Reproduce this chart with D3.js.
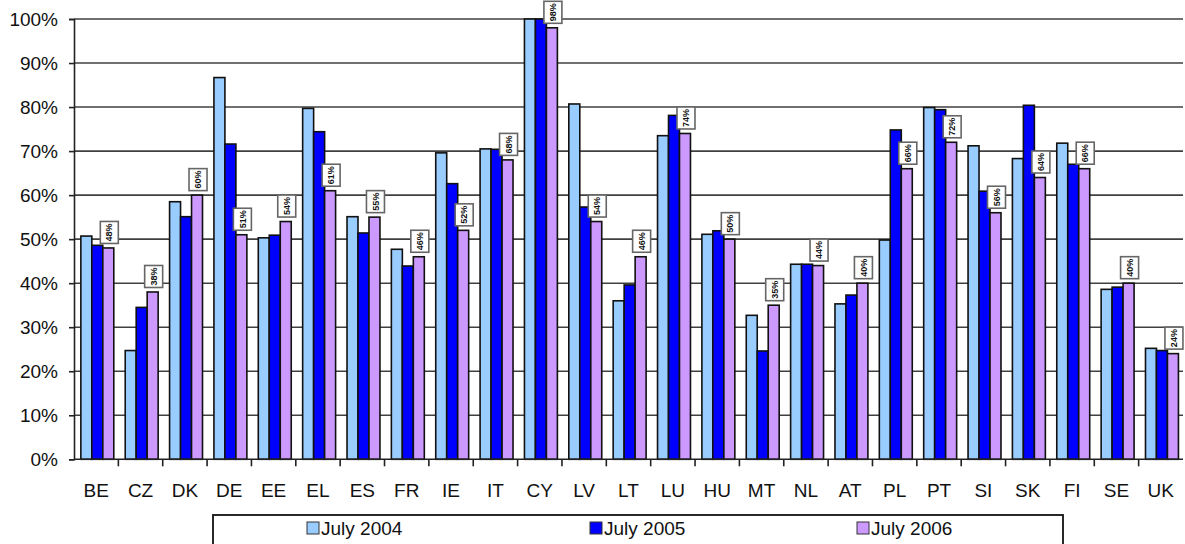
<!DOCTYPE html>
<html>
<head>
<meta charset="utf-8">
<script src="https://cdn.jsdelivr.net/npm/d3@7/dist/d3.min.js"></script>
<style>
  html, body { margin: 0; padding: 0; background: #fff; }
  svg { display: block; font-family: "Liberation Sans", Arial, sans-serif; }
</style>
</head>
<body>
<svg id="chart" width="1185" height="544"></svg>
<script>
// Member states along the category axis
const countries = ["BE","CZ","DK","DE","EE","EL","ES","FR","IE","IT","CY","LV","LT","LU","HU","MT","NL","AT","PL","PT","SI","SK","FI","SE","UK"];

// Share (%) per member state, one array per survey date
const july2004 = [50.7, 24.7, 58.5, 86.7, 50.3, 79.7, 55.1, 47.7, 69.6, 70.5, 100, 80.7, 36.0, 73.5, 51.1, 32.7, 44.3, 35.3, 49.8, 79.9, 71.2, 68.3, 71.8, 38.6, 25.2];
const july2005 = [48.6, 34.5, 55.1, 71.6, 50.9, 74.4, 51.4, 43.9, 62.6, 70.4, 100, 57.3, 39.6, 78.1, 51.9, 24.6, 44.3, 37.3, 74.8, 79.4, 60.9, 80.4, 67.0, 39.1, 24.7];
const july2006 = [48, 38, 60, 51, 54, 61, 55, 46, 52, 68, 98, 54, 46, 74, 50, 35, 44, 40, 66, 72, 56, 64, 66, 40, 24];

const seriesNames = ["July 2004", "July 2005", "July 2006"];
const seriesColors = ["#99CCFF", "#0000FF", "#CC99FF"];
const yTicks = [0, 10, 20, 30, 40, 50, 60, 70, 80, 90, 100];

const seriesValues = [july2004, july2005, july2006];
const rows = countries.map((c, i) => ({
  country: c,
  values: seriesNames.map((s, k) => ({ series: s, k, value: seriesValues[k][i] }))
}));

const svg = d3.select("#chart");
const plot = { left: 74, right: 1183, top: 19, bottom: 459.3 };

const x0 = d3.scaleBand().domain(countries).range([plot.left, plot.right]).padding(0);
const x1 = d3.scaleBand().domain(seriesNames).range([0, x0.bandwidth()])
  .paddingInner(0).paddingOuter(0.52).align(0.6);
const y = d3.scaleLinear().domain([0, 100]).range([plot.bottom, plot.top]);

// Horizontal gridlines
svg.append("g")
  .selectAll("line")
  .data(yTicks.filter(t => t > 0))
  .join("line")
  .attr("x1", plot.left).attr("x2", plot.right)
  .attr("y1", d => y(d)).attr("y2", d => y(d))
  .attr("stroke", "#404040").attr("stroke-width", 1.6);

// Y axis
const yAxis = svg.append("g")
  .attr("transform", `translate(${plot.left},0)`)
  .call(d3.axisLeft(y).tickValues(yTicks).tickFormat(d => d + "%").tickSize(5).tickPadding(11));
yAxis.select(".domain").attr("stroke", "#222").attr("stroke-width", 1.6);
yAxis.selectAll(".tick line").attr("stroke", "#222").attr("stroke-width", 1.6);
yAxis.selectAll(".tick text")
  .attr("font-size", 19).attr("fill", "#111")
  .attr("font-family", "'Liberation Sans', Arial, sans-serif");

// Bars
const groups = svg.append("g")
  .selectAll("g")
  .data(rows)
  .join("g")
  .attr("transform", d => `translate(${x0(d.country)},0)`);

groups.selectAll("rect")
  .data(d => d.values)
  .join("rect")
  .attr("x", d => x1(d.series))
  .attr("width", x1.bandwidth())
  .attr("y", d => y(d.value))
  .attr("height", d => y(0) - y(d.value))
  .attr("fill", d => seriesColors[d.k])
  .attr("stroke", "#111")
  .attr("stroke-width", 1.6);

// X axis (ticks between categories)
const xAxisG = svg.append("g");
xAxisG.append("line")
  .attr("x1", plot.left).attr("x2", plot.right)
  .attr("y1", plot.bottom).attr("y2", plot.bottom)
  .attr("stroke", "#222").attr("stroke-width", 1.6);
xAxisG.selectAll("line.tick")
  .data(countries.slice(1))
  .join("line")
  .attr("class", "tick")
  .attr("x1", d => x0(d)).attr("x2", d => x0(d))
  .attr("y1", plot.bottom).attr("y2", plot.bottom + 7)
  .attr("stroke", "#222").attr("stroke-width", 1.6);
xAxisG.selectAll("text")
  .data(countries)
  .join("text")
  .attr("x", d => x0(d) + x0.bandwidth() / 2)
  .attr("y", 497)
  .attr("text-anchor", "middle")
  .attr("font-size", 19)
  .attr("fill", "#111")
  .text(d => d);

// Value labels on the July 2006 bars
const lastSeries = seriesNames[2];
const labelW = 18, labelH = 22;
const labels = svg.append("g")
  .selectAll("g")
  .data(rows)
  .join("g")
  .attr("transform", d => {
    const cx = x0(d.country) + x1(lastSeries) + x1.bandwidth() / 2 + 1;
    const by = y(d.values[2].value) - 4.5;
    return `translate(${cx},${by - labelH / 2})`;
  });
labels.append("rect")
  .attr("x", -labelW / 2).attr("y", -labelH / 2)
  .attr("width", labelW).attr("height", labelH)
  .attr("fill", "#fff")
  .attr("stroke", "#666").attr("stroke-width", 1.6);
labels.append("text")
  .attr("transform", "rotate(-90)")
  .attr("text-anchor", "middle")
  .attr("dy", "0.35em")
  .attr("font-size", 9)
  .attr("font-weight", "bold")
  .attr("fill", "#111")
  .text(d => d.values[2].value + "%");

// Legend
const legend = svg.append("g");
legend.append("rect")
  .attr("x", 213).attr("y", 515).attr("width", 850).attr("height", 40)
  .attr("fill", "#fff").attr("stroke", "#111").attr("stroke-width", 1.8);
const legendX = [307, 590, 857];
const items = legend.selectAll("g")
  .data(seriesNames)
  .join("g")
  .attr("transform", (d, i) => `translate(${legendX[i]},522)`);
items.append("rect")
  .attr("width", 12).attr("height", 12)
  .attr("fill", (d, i) => seriesColors[i])
  .attr("stroke", "#333").attr("stroke-width", 1);
items.append("text")
  .attr("x", 14).attr("y", 13)
  .attr("font-size", 19)
  .attr("fill", "#111")
  .text(d => d);
</script>
</body>
</html>
